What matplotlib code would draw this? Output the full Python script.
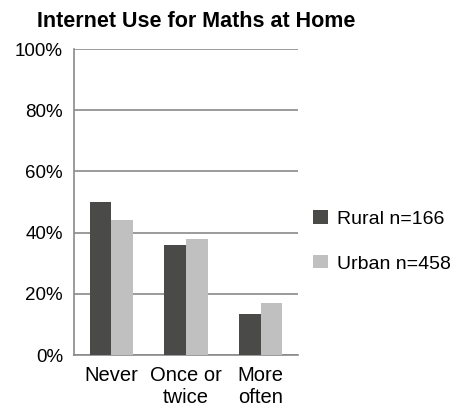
import matplotlib.pyplot as plt
import numpy as np

plt.rcParams['font.family'] = ['Liberation Sans', 'DejaVu Sans']

categories = ['Never', 'Once or\ntwice', 'More\noften']
rural = [50, 36, 13.4]
urban = [44, 38, 17]
series_names = ['Rural n=166', 'Urban n=458']
yticks = [0, 20, 40, 60, 80, 100]

fig = plt.figure(figsize=(4.61, 4.09), dpi=100)
ax = fig.add_axes([0.1605, 0.132, 0.486, 0.748])

x = np.arange(len(categories))
w = 0.29
ax.bar(x - w / 2, rural, w, color='#4a4a48', label=series_names[0], zorder=3)
ax.bar(x + w / 2, urban, w, color='#c0c0c0', label=series_names[1], zorder=3)

ax.set_xlim(-0.5, 2.5)
ax.set_ylim(0, 100)
ax.set_yticks(yticks)
ax.set_yticklabels([f'{t}%' for t in yticks], fontsize=13.5)
ax.set_xticks(x)
ax.set_xticklabels(categories, fontsize=14.5, linespacing=1.2)
ax.tick_params(axis='y', length=0, pad=8)
ax.tick_params(axis='x', length=0, pad=8)
ax.grid(axis='y', color='#8a8a8a', linewidth=1.2, zorder=0)
for s in ['top', 'right']:
    ax.spines[s].set_visible(False)
for s in ['left', 'bottom']:
    ax.spines[s].set_color('#8a8a8a')
    ax.spines[s].set_linewidth(1.2)

fig.text(196 / 461, 1 - 27 / 409, 'Internet Use for Maths at Home',
         fontsize=15.5, fontweight='bold', ha='center', va='baseline')

fig.legend(loc='center left', bbox_to_anchor=(313 / 461, 1 - 241.5 / 409),
           frameon=False, fontsize=14, handlelength=0.77, handleheight=0.67,
           handletextpad=0.46, labelspacing=1.4, borderpad=0, borderaxespad=0)

fig.savefig('out.png', dpi=100)
